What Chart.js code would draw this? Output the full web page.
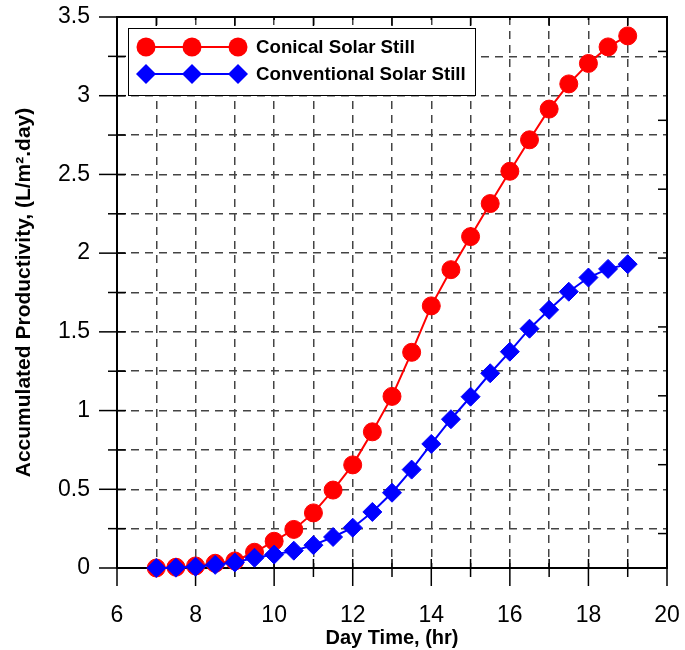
<!DOCTYPE html>
<html>
<head>
<meta charset="utf-8">
<title>Accumulated Productivity</title>
<script src="https://cdn.jsdelivr.net/npm/chart.js@4.4.1/dist/chart.umd.min.js"></script>
<style>
  html, body { margin: 0; padding: 0; background: #fff; }
  #contenedor { width: 685px; height: 650px; }
</style>
</head>
<body>
<div id="contenedor"><canvas id="grafica" width="685" height="650"></canvas></div>
<script>
// datos (hora del dia, L/m2.day)
const horas = [7, 7.5, 8, 8.5, 9, 9.5, 10, 10.5, 11, 11.5, 12, 12.5, 13, 13.5, 14, 14.5, 15, 15.5, 16, 16.5, 17, 17.5, 18, 18.5, 19];
const conico = [0, 0.005, 0.013, 0.03, 0.045, 0.1, 0.17, 0.245, 0.35, 0.495, 0.655, 0.865, 1.09, 1.37, 1.665, 1.895, 2.105, 2.315, 2.52, 2.72, 2.915, 3.075, 3.205, 3.31, 3.38];
const convencional = [0, 0.002, 0.008, 0.02, 0.035, 0.065, 0.085, 0.11, 0.145, 0.197, 0.256, 0.356, 0.478, 0.625, 0.788, 0.945, 1.088, 1.237, 1.374, 1.52, 1.64, 1.755, 1.845, 1.9, 1.93];
const etiquetaConico = "Conical Solar Still";
const etiquetaConvencional = "Conventional Solar Still";
const etiquetasX = [6, 8, 10, 12, 14, 16, 18, 20];
const etiquetasY = [0, 0.5, 1, 1.5, 2, 2.5, 3, 3.5];
const tituloX = "Day Time, (hr)";
const tituloY = "Accumulated Productivity, (L/m\u00B2.day)";

const fuente = "'Liberation Sans', Arial, Helvetica, sans-serif";
Chart.defaults.font.family = fuente;
Chart.defaults.color = "#000";

function esEtiqueta(lista, v) {
  return lista.some(e => Math.abs(e - v) < 1e-6);
}

function linea(ctx, x1, y1, x2, y2) {
  ctx.beginPath();
  ctx.moveTo(x1, y1);
  ctx.lineTo(x2, y2);
  ctx.stroke();
}

function sinRelleno(s) {
  s.paddingTop = 0;
  s.paddingBottom = 0;
  s.paddingLeft = 0;
  s.paddingRight = 0;
}

// marco y marcas de los ejes
const marcoEjes = {
  id: "marcoEjes",
  beforeDatasetsDraw(chart) {
    const ctx = chart.ctx;
    const a = chart.chartArea;
    const x = chart.scales.x;
    const y = chart.scales.y;
    ctx.save();
    ctx.strokeStyle = "#000";
    ctx.lineWidth = 1.5;
    x.ticks.forEach(t => {
      const px = x.getPixelForValue(t.value);
      const mayor = esEtiqueta(etiquetasX, t.value);
      linea(ctx, px, a.bottom - 9, px, a.bottom + (mayor ? 18 : 9));
      linea(ctx, px, a.top, px, a.top + (mayor ? 3 : 9));
    });
    y.ticks.forEach(t => {
      const py = y.getPixelForValue(t.value);
      const mayor = esEtiqueta(etiquetasY, t.value);
      linea(ctx, a.left - (mayor ? 18 : 9), py, a.left + 9, py);
    });
    // eje derecho con divisiones propias
    for (let k = 0; k < 8; k++) {
      const v = y.min + (k + 0.5) * (y.max - y.min) / 8;
      const py = y.getPixelForValue(v);
      linea(ctx, a.right - 9, py, a.right, py);
    }
    ctx.lineWidth = 2;
    ctx.strokeRect(a.left, a.top, a.right - a.left, a.bottom - a.top);
    ctx.restore();
  }
};

// leyenda con tres marcadores
const leyenda = {
  id: "leyenda",
  afterDatasetsDraw(chart) {
    const ctx = chart.ctx;
    const a = chart.chartArea;
    const x0 = a.left + 11, y0 = a.top + 11, ancho = 347, alto = 67;
    ctx.save();
    ctx.fillStyle = "#fff";
    ctx.fillRect(x0, y0, ancho, alto);
    ctx.strokeStyle = "#000";
    ctx.lineWidth = 1;
    ctx.strokeRect(x0 + 0.5, y0 + 0.5, ancho, alto);
    const filas = [
      {ds: chart.data.datasets[0], y: y0 + 19},
      {ds: chart.data.datasets[1], y: y0 + 46}
    ];
    const xs = [x0 + 18, x0 + 64, x0 + 110];
    filas.forEach(f => {
      ctx.strokeStyle = f.ds.borderColor;
      ctx.lineWidth = 2;
      linea(ctx, xs[0], f.y, xs[2], f.y);
      ctx.fillStyle = f.ds.pointBackgroundColor;
      xs.forEach(px => {
        ctx.beginPath();
        if (f.ds.pointStyle === "circle") {
          ctx.arc(px, f.y, f.ds.pointRadius + 0.5, 0, Math.PI * 2);
        } else {
          const r = f.ds.pointRadius + 0.5;
          ctx.moveTo(px - r, f.y);
          ctx.lineTo(px, f.y - r);
          ctx.lineTo(px + r, f.y);
          ctx.lineTo(px, f.y + r);
          ctx.closePath();
        }
        ctx.fill();
      });
      ctx.fillStyle = "#000";
      ctx.font = "bold 18.7px " + fuente;
      ctx.textAlign = "left";
      ctx.textBaseline = "middle";
      ctx.fillText(f.ds.label, x0 + 128, f.y + 1);
    });
    ctx.restore();
  }
};

new Chart("grafica", {
  type: "line",
  data: {
    labels: horas,
    datasets: [{
      label: etiquetaConico,
      data: horas.map((h, i) => ({x: h, y: conico[i]})),
      borderColor: "#ff0000",
      backgroundColor: "#ff0000",
      pointBackgroundColor: "#ff0000",
      pointBorderColor: "#ff0000",
      pointStyle: "circle",
      pointRadius: 9,
      pointBorderWidth: 1,
      borderWidth: 2,
      fill: false,
      clip: false,
      order: 1
    }, {
      label: etiquetaConvencional,
      data: horas.map((h, i) => ({x: h, y: convencional[i]})),
      borderColor: "#0000ff",
      backgroundColor: "#0000ff",
      pointBackgroundColor: "#0000ff",
      pointBorderColor: "#0000ff",
      pointStyle: "rectRot",
      pointRadius: 9.5,
      pointBorderWidth: 1,
      borderWidth: 2,
      fill: false,
      clip: false,
      order: 0
    }]
  },
  options: {
    responsive: false,
    devicePixelRatio: 1,
    animation: false,
    layout: {padding: {top: 17, right: 18, left: 0, bottom: 0}},
    plugins: {
      legend: {display: false},
      tooltip: {enabled: false}
    },
    scales: {
      x: {
        type: "linear",
        min: 6,
        max: 20,
        afterFit: (s) => { s.height = 82; sinRelleno(s); },
        ticks: {
          stepSize: 1,
          padding: 34,
          maxRotation: 0,
          autoSkip: false,
          font: {size: 23},
          callback: (v) => esEtiqueta(etiquetasX, v) ? String(v) : ""
        },
        grid: {color: "#444", lineWidth: 1.5, drawTicks: false},
        border: {display: false, dash: [8, 6]},
        title: {display: true, text: tituloX, font: {size: 20, weight: "bold"}, padding: {top: 0, bottom: 0}}
      },
      y: {
        type: "linear",
        min: 0,
        max: 3.5,
        afterFit: (s) => { s.width = 117; sinRelleno(s); },
        ticks: {
          stepSize: 0.25,
          padding: 27,
          autoSkip: false,
          font: {size: 23},
          callback: (v) => esEtiqueta(etiquetasY, v) ? String(Math.round(v * 10) / 10) : ""
        },
        grid: {color: "#444", lineWidth: 1.5, drawTicks: false},
        border: {display: false, dash: [8, 6]},
        title: {display: true, text: tituloY, font: {size: 21, weight: "bold"}, padding: {top: 12, bottom: 0}}
      }
    }
  },
  plugins: [marcoEjes, leyenda]
});
</script>
</body>
</html>
